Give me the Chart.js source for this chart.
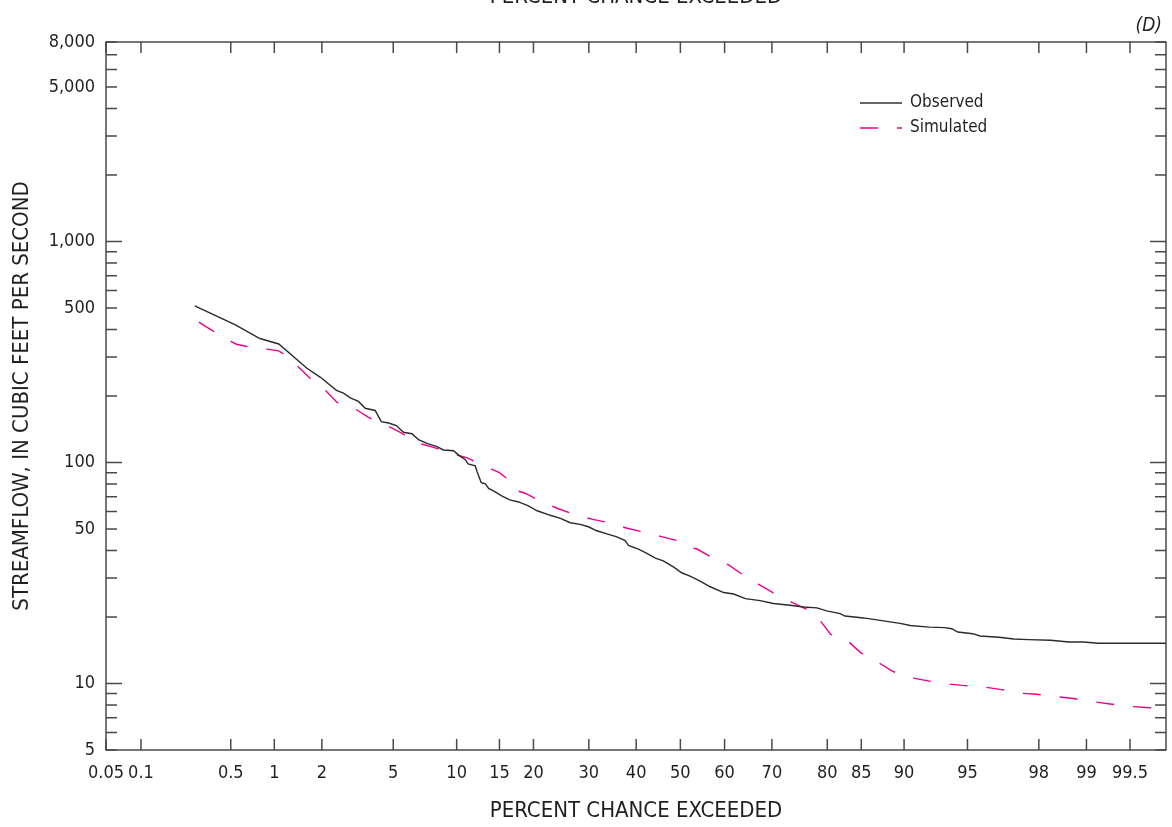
<!DOCTYPE html>
<html>
<head>
<meta charset="utf-8">
<title>Flow duration</title>
<script src="https://cdn.jsdelivr.net/npm/chart.js@4.4.1/dist/chart.umd.min.js"></script>
<style>
  html, body { margin: 0; padding: 0; background: #fff; }
  #wrap { position: relative; width: 1172px; height: 827px; }
</style>
</head>
<body>
<div id="wrap"><canvas id="flowChart"></canvas></div>
<script>
// percent chance exceeded / streamflow (cfs)
const obsPct = [0.27, 0.54, 0.80, 1.07, 1.62, 1.96, 2.44, 2.68, 2.93, 3.26, 3.55, 4.02, 4.33, 4.73, 5.18,
  5.64, 6.2, 6.68, 7.33, 8.15, 8.74, 9.68, 10.2, 10.9, 11.2, 12.0, 12.2, 12.7, 13.2, 13.6, 14.4, 15.3,
  16.4, 17.7, 19.2, 20.6, 22.8, 24.6, 26.4, 28.3, 29.9, 31.6, 33.7, 35.8, 37.6, 38.3, 40.5, 42.4, 44.3,
  46.1, 48.4, 50.3, 52.2, 54.4, 56.8, 59.8, 62.0, 64.5, 67.6, 70.3, 73.5, 76.0, 78.3, 79.9, 82.0, 82.7,
  85.3, 87.4, 88.5, 89.6, 90.6, 92.3, 93.5, 94.0, 94.4, 95.3, 95.7, 96.6, 97.2, 97.7, 98.3, 98.7, 98.95,
  99.17, 99.41, 99.58, 99.73];
const obsFlow = [512, 420, 364, 344, 267, 243, 212, 206, 196, 189, 176, 172, 153, 151, 147,
  137, 135, 127, 122, 118, 114, 113, 108, 103, 98.5, 96.5, 91, 81, 80, 76.4, 73.8, 70.6,
  67.7, 66.3, 63.6, 60.5, 57.7, 55.9, 53.4, 52.5, 51.2, 49.1, 47.5, 46.1, 44.3, 42.2, 40.6, 38.8, 36.9,
  35.9, 33.7, 31.7, 30.6, 29.1, 27.4, 25.8, 25.4, 24.2, 23.7, 23.0, 22.6, 22.2, 22.0, 21.3, 20.7, 20.2,
  19.8, 19.3, 19.0, 18.7, 18.3, 18.0, 17.9, 17.7, 17.1, 16.8, 16.4, 16.2, 15.9, 15.8, 15.7, 15.4, 15.4,
  15.2, 15.2, 15.2, 15.2];

const simPct = [0.29, 0.375, 0.50, 0.55, 0.65, 0.89, 1.07, 1.15, 1.44, 1.70, 2.10, 2.46, 3.12, 3.70, 4.64,
  5.43, 6.56, 7.87, 9.53, 10.4, 11.1, 13.0, 15.0, 17.0, 17.4, 18.7, 21.4, 24.0, 27.3, 30.8, 34.7, 38.0,
  42.4, 45.9, 50.3, 52.2, 53.8, 57.5, 60.9, 64.1, 67.3, 70.3, 73.4, 76.6, 78.0, 78.7, 80.5, 82.9, 84.9,
  86.8, 88.7, 90.3, 92.1, 93.4, 94.7, 95.7, 96.65, 96.99, 97.3, 97.94, 98.37, 98.78, 99.05, 99.31, 99.47,
  99.62, 99.73];
const simFlow = [432, 392, 353, 343, 335, 326, 320, 310, 270, 240, 212, 187, 175, 160, 147,
  137, 123, 117, 110, 107, 105, 96.5, 90, 80, 74.6, 72.6, 66.3, 62.1, 58.0, 55.3, 53.1, 50.4,
  48.1, 46.1, 43.8, 41.3, 40.6, 36.8, 34.4, 30.9, 28.1, 25.7, 23.6, 21.6, 20.7, 19.5, 16.7, 15.8, 13.8,
  12.7, 11.4, 10.7, 10.3, 10.0, 9.8, 9.7, 9.4, 9.3, 9.06, 8.94, 8.75, 8.55, 8.31, 8.08, 7.89,
  7.78, 7.70];

const xTicks = [0.05, 0.1, 0.5, 1, 2, 5, 10, 15, 20, 30, 40, 50, 60, 70, 80, 85, 90, 95, 98, 99, 99.5];
const yLabels = [5, 10, 50, 100, 500, 1000, 5000, 8000];
const yMinor = [5, 6, 7, 8, 9, 10, 20, 30, 40, 50, 60, 70, 80, 90, 100, 200, 300, 400, 500, 600, 700, 800, 900,
  1000, 2000, 3000, 4000, 5000, 6000, 7000, 8000];
const yMajor = [10, 100, 1000];

const FONT = "'DejaVu Sans Condensed', 'Liberation Sans Narrow', Roboto, sans-serif";
const INK = '#231f20';
const AXIS = '#4a4a4a';
const MAGENTA = '#ec008c';

// inverse normal (Acklam), the probability axis works in z units
function probit(p) {
  const a = [-39.69683028665376, 220.9460984245205, -275.9285104469687, 138.3577518672690, -30.66479806614716, 2.506628277459239];
  const b = [-54.47609879822406, 161.5858368580409, -155.6989798598866, 66.80131188771972, -13.28068155288572];
  const c = [-0.007784894002430293, -0.3223964580411365, -2.400758277161838, -2.549732539343734, 4.374664141464968, 2.938163982698783];
  const d = [0.007784695709041462, 0.3224671290700398, 2.445134137142996, 3.754408661907416];
  const lo = 0.02425;
  let q, r;
  if (p < lo) {
    q = Math.sqrt(-2 * Math.log(p));
    return (((((c[0]*q+c[1])*q+c[2])*q+c[3])*q+c[4])*q+c[5]) / ((((d[0]*q+d[1])*q+d[2])*q+d[3])*q+1);
  }
  if (p > 1 - lo) {
    q = Math.sqrt(-2 * Math.log(1 - p));
    return -(((((c[0]*q+c[1])*q+c[2])*q+c[3])*q+c[4])*q+c[5]) / ((((d[0]*q+d[1])*q+d[2])*q+d[3])*q+1);
  }
  q = p - 0.5; r = q * q;
  return (((((a[0]*r+a[1])*r+a[2])*r+a[3])*r+a[4])*r+a[5])*q / (((((b[0]*r+b[1])*r+b[2])*r+b[3])*r+b[4])*r+1);
}
const zOf = pct => probit(pct / 100);

function toPoints(pcts, flows) {
  return pcts.map((p, i) => ({ x: zOf(p), y: flows[i] }));
}

const framePlugin = {
  id: 'frame',
  afterDraw(chart) {
    const { ctx, chartArea: a, scales } = chart;
    const x = scales.x, y = scales.y;
    ctx.save();
    ctx.strokeStyle = AXIS;
    ctx.lineWidth = 1.5;
    ctx.strokeRect(a.left, a.top, a.right - a.left, a.bottom - a.top);

    ctx.beginPath();
    xTicks.forEach(p => {
      const px = x.getPixelForValue(zOf(p));
      ctx.moveTo(px, a.bottom); ctx.lineTo(px, a.bottom - 11);
      ctx.moveTo(px, a.top); ctx.lineTo(px, a.top + 11);
    });
    yMinor.forEach(v => {
      const py = y.getPixelForValue(v);
      const len = yMajor.includes(v) ? 16 : 11;
      ctx.moveTo(a.left, py); ctx.lineTo(a.left + len, py);
      ctx.moveTo(a.right, py); ctx.lineTo(a.right - len, py);
    });
    ctx.stroke();

    // legend
    ctx.lineWidth = 1.3;
    ctx.strokeStyle = '#333';
    ctx.beginPath(); ctx.moveTo(860, 103); ctx.lineTo(902, 103); ctx.stroke();
    ctx.strokeStyle = MAGENTA;
    ctx.beginPath(); ctx.moveTo(860, 128); ctx.lineTo(878, 128);
    ctx.moveTo(897, 128); ctx.lineTo(902, 128); ctx.stroke();
    ctx.fillStyle = INK;
    ctx.font = '17px ' + FONT;
    ctx.textAlign = 'left';
    ctx.textBaseline = 'middle';
    ctx.fillText('Observed', 910, 103);
    ctx.fillText('Simulated', 910, 128);

    ctx.font = 'italic 19px ' + FONT;
    ctx.textAlign = 'right';
    ctx.textBaseline = 'alphabetic';
    ctx.fillText('(D)', 1162, 31);

    // the top axis title is cut off by the figure edge
    ctx.font = '22px ' + FONT;
    ctx.textAlign = 'center';
    ctx.fillText('PERCENT CHANCE EXCEEDED', (a.left + a.right) / 2, 3);
    ctx.restore();
  }
};

Chart.defaults.font.family = FONT;
Chart.defaults.color = INK;

new Chart(document.getElementById('flowChart'), {
  type: 'line',
  data: {
    datasets: [
      {
        label: 'Observed',
        data: toPoints(obsPct, obsFlow),
        borderColor: '#2b2b2b',
        borderWidth: 1.4,
        pointRadius: 0,
        tension: 0,
        fill: false
      },
      {
        label: 'Simulated',
        data: toPoints(simPct, simFlow),
        borderColor: MAGENTA,
        borderWidth: 1.4,
        borderDash: [18, 19],
        pointRadius: 0,
        tension: 0,
        fill: false
      }
    ]
  },
  options: {
    responsive: true,
    maintainAspectRatio: false,
    animation: false,
    devicePixelRatio: 1,
    layout: { padding: { top: 42, right: 6, left: 0, bottom: 0 } },
    plugins: {
      legend: { display: false },
      tooltip: { enabled: false }
    },
    scales: {
      x: {
        type: 'linear',
        min: zOf(0.05),
        max: zOf(99.73),
        grid: { display: false, drawTicks: false },
        border: { display: false },
        afterFit: s => { s.height = 77; },
        afterBuildTicks: s => { s.ticks = xTicks.map(p => ({ value: zOf(p) })); },
        ticks: {
          autoSkip: false,
          maxRotation: 0,
          padding: 13,
          font: { size: 18 },
          callback: (v, i) => String(xTicks[i])
        },
        title: {
          display: true,
          text: 'PERCENT CHANCE EXCEEDED',
          font: { size: 22 },
          padding: { top: 0, bottom: 3 }
        }
      },
      y: {
        type: 'logarithmic',
        min: 5,
        max: 8000,
        grid: { display: false, drawTicks: false },
        border: { display: false },
        afterFit: s => { s.width = 106; },
        afterBuildTicks: s => { s.ticks = yMinor.map(v => ({ value: v })); },
        ticks: {
          autoSkip: false,
          padding: 11,
          font: { size: 18 },
          callback: v => yLabels.includes(v) ? v.toLocaleString('en-US') : ''
        },
        title: {
          display: true,
          text: 'STREAMFLOW, IN CUBIC FEET PER SECOND',
          font: { size: 22 },
          padding: { top: 9, bottom: 0 }
        }
      }
    }
  },
  plugins: [framePlugin]
});
</script>
</body>
</html>
